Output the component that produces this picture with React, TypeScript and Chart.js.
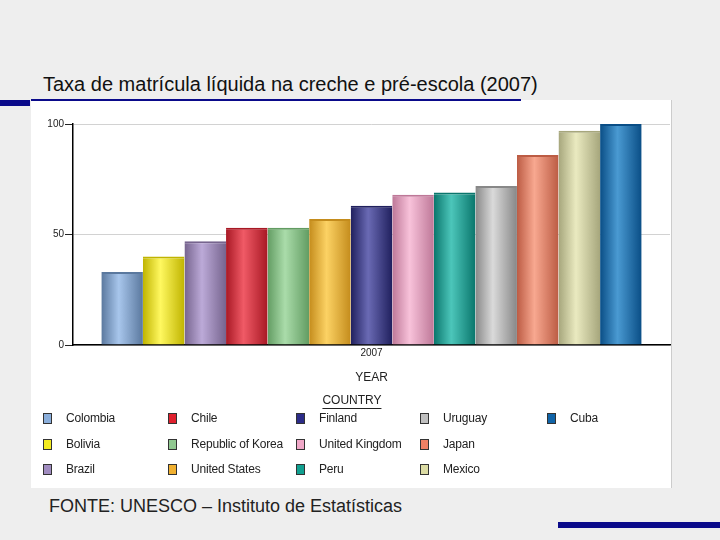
import React, { useEffect, useRef } from "react";
import { Chart, registerables } from "chart.js";

Chart.register(...registerables);

const titleText = "Taxa de matrícula líquida na creche e pré-escola (2007)";
const sourceText = "FONTE: UNESCO – Instituto de Estatísticas";
const categories = ["2007"];
const countries = [
  "Colombia", "Bolivia", "Brazil", "Chile", "Republic of Korea", "United States",
  "Finland", "United Kingdom", "Peru", "Uruguay", "Japan", "Mexico", "Cuba",
];
const values = [33, 40, 47, 53, 53, 57, 63, 68, 69, 72, 86, 97, 100];
const yTicks = [0, 50, 100];
const baseColors = [
  "#8aaedb", "#f4ec20", "#a08cc0", "#e0202e", "#90c890", "#f0b030",
  "#2c2c88", "#f0a8c8", "#10a090", "#c0c0c0", "#f08064", "#dcdca4", "#1064a8",
];
const lightColors = [
  "#a8c6ec", "#fff860", "#bcaad8", "#f05a66", "#aadcaa", "#fcd264",
  "#6a6ab4", "#f8c2da", "#4cc6ba", "#dadada", "#f8a890", "#eaeac0", "#4a9ad2",
];
const darkColors = [
  "#5a789e", "#c0b400", "#76648e", "#a81824", "#629c62", "#c48c1c",
  "#20205e", "#be7898", "#0a766c", "#888888", "#bc5c44", "#a6a67c", "#0a4e86",
];

const FONT = "'Liberation Sans', Arial, sans-serif";

const cylinderPlugin = {
  id: "cylinder",
  beforeDatasetsDraw(chart: any) {
    const ctx = chart.ctx;
    chart.data.datasets.forEach((_ds: any, i: number) => {
      const meta = chart.getDatasetMeta(i);
      meta.data.forEach((el: any) => {
        const { x, width } = el.getProps(["x", "width"], true);
        if (!isFinite(x) || !isFinite(width)) return;
        const g = ctx.createLinearGradient(x - width / 2, 0, x + width / 2, 0);
        g.addColorStop(0, darkColors[i]);
        g.addColorStop(0.42, lightColors[i]);
        g.addColorStop(1, darkColors[i]);
        el.options = { ...el.options, backgroundColor: g };
      });
    });
  },
};

function App() {
  const canvasRef = useRef<HTMLCanvasElement>(null);

  useEffect(() => {
    if (!canvasRef.current) return;
    const chart = new Chart(canvasRef.current, {
      type: "bar",
      data: {
        labels: categories,
        datasets: countries.map((c, i) => ({
          label: c,
          data: [values[i]],
          backgroundColor: baseColors[i],
          borderColor: darkColors[i],
          borderWidth: { top: 2, right: 0, bottom: 0, left: 0 },
          borderSkipped: "start",
          categoryPercentage: 0.905,
          barPercentage: 1,
        })),
      },
      options: {
        responsive: false,
        animation: false,
        layout: { padding: { left: 0, top: 24, right: 2, bottom: 99 } },
        plugins: {
          legend: { display: false },
          tooltip: { enabled: false },
          title: { display: false },
        },
        scales: {
          x: {
            grid: { display: true, drawOnChartArea: false, drawTicks: false },
            border: { display: true, color: "#000", width: 1.5 },
            ticks: { color: "#222", font: { family: FONT, size: 10 }, padding: 2 },
            title: {
              display: true,
              text: "YEAR",
              color: "#222",
              font: { family: FONT, size: 12 },
              padding: { top: 4, bottom: 4 },
            },
            afterFit(scale: any) {
              scale.height = 44;
            },
          },
          y: {
            min: 0,
            max: 100,
            afterBuildTicks(scale: any) {
              scale.ticks = yTicks.map((v) => ({ value: v }));
            },
            grid: { color: "#d2d2d2", tickColor: "#222", tickLength: 8, lineWidth: 1 },
            border: { display: true, color: "#000", width: 1.5 },
            ticks: { color: "#222", font: { family: FONT, size: 10 }, padding: 1 },
            afterFit(scale: any) {
              scale.width = 42;
            },
          },
        },
      },
      plugins: [cylinderPlugin],
    } as any);
    return () => chart.destroy();
  }, []);

  const colLefts = [43, 168, 296, 420, 547];
  const rowTops = [418, 444, 469];

  return (
    <div
      style={{
        position: "absolute",
        left: 0,
        top: 0,
        width: 720,
        height: 540,
        background: "#eeeeee",
        overflow: "hidden",
        fontFamily: FONT,
      }}
    >
      <div
        style={{
          position: "absolute",
          left: 43,
          top: 72,
          fontSize: 20,
          color: "#111",
          whiteSpace: "nowrap",
          lineHeight: "24px",
        }}
      >
        {titleText}
      </div>
      <div style={{ position: "absolute", left: 0, top: 100, width: 30, height: 6, background: "#0a0a8a" }} />
      <div
        style={{
          position: "absolute",
          left: 31,
          top: 100,
          width: 641,
          height: 388,
          background: "#ffffff",
          borderRight: "1px solid #cccccc",
          boxSizing: "border-box",
        }}
      />
      <div style={{ position: "absolute", left: 31, top: 99, width: 490, height: 2, background: "#0a0a8a" }} />
      <canvas
        ref={canvasRef}
        width={641}
        height={388}
        style={{ position: "absolute", left: 31, top: 100, width: 641, height: 388 }}
      />
      <div
        style={{
          position: "absolute",
          left: 352,
          top: 393,
          transform: "translateX(-50%)",
          fontSize: 12,
          color: "#222",
          borderBottom: "1px solid #222",
          lineHeight: "15px",
        }}
      >
        COUNTRY
      </div>
      {countries.map((c, i) => {
        const col = Math.floor(i / 3);
        const row = i % 3;
        return (
          <div
            key={c}
            style={{
              position: "absolute",
              left: colLefts[col],
              top: rowTops[row] - 7,
              height: 14,
              display: "flex",
              alignItems: "center",
              whiteSpace: "nowrap",
            }}
          >
            <div
              style={{
                width: 9,
                height: 11,
                background: baseColors[i],
                border: "1px solid #333",
                boxSizing: "border-box",
                marginRight: 14,
              }}
            />
            <span style={{ fontSize: 12, color: "#222", letterSpacing: -0.2 }}>{c}</span>
          </div>
        );
      })}
      <div
        style={{
          position: "absolute",
          left: 49,
          top: 495,
          fontSize: 18,
          color: "#222",
          whiteSpace: "nowrap",
          lineHeight: "22px",
        }}
      >
        {sourceText}
      </div>
      <div style={{ position: "absolute", left: 558, top: 522, width: 162, height: 6, background: "#0a0a8a" }} />
    </div>
  );
}

export default App;
